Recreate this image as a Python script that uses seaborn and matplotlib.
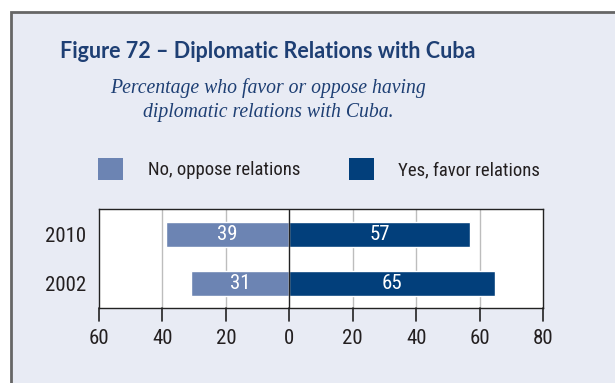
import matplotlib
matplotlib.use("Agg")
import matplotlib.pyplot as plt
from matplotlib import font_manager
from matplotlib.patches import Patch, Rectangle
import seaborn as sns

# data
years = ["2010", "2002"]
oppose = [39, 31]
favor = [57, 65]
x_ticks = [-60, -40, -20, 0, 20, 40, 60, 80]

light = "#6C84B3"
dark = "#023F7B"
navy = "#1E3F74"
ink = "#231F20"
bg = "#E8EBF4"

names = {f.name for f in font_manager.fontManager.ttflist}
narrow = "DejaVu Sans"
for cand in ["Liberation Sans Narrow", "Roboto Condensed", "Open Sans Condensed"]:
    if cand in names:
        narrow = cand
        break

sns.set_theme(style="white")
plt.rcParams["font.family"] = [narrow, "DejaVu Sans"]
plt.rcParams["font.stretch"] = "condensed"

fig = plt.figure(figsize=(6.15, 3.83), dpi=100)
fig.patch.set_facecolor("white")
# panel with grey frame on the left and top
fig.patches.append(Rectangle((11 / 615, -0.05), 1.1, (383 - 12) / 383 + 0.05,
                             transform=fig.transFigure, facecolor=bg,
                             edgecolor="#666666", linewidth=2, zorder=-5))

ax = fig.add_axes([99 / 615, (383 - 308) / 383, 444 / 615, 99 / 383])
ax.set_facecolor("white")

sns.barplot(x=[-v for v in oppose], y=years, color=light, width=0.51,
            saturation=1, orient="h", ax=ax, zorder=3)
sns.barplot(x=favor, y=years, color=dark, width=0.51,
            saturation=1, orient="h", ax=ax, zorder=3)

ax.bar_label(ax.containers[0], labels=[str(v) for v in oppose], label_type="center",
             color="white", fontsize=15)
ax.bar_label(ax.containers[1], labels=[str(v) for v in favor], label_type="center",
             color="white", fontsize=15)

ax.set_xlim(-60, 80)
ax.set_ylim(1.5, -0.52)
ax.set_xticks(x_ticks)
ax.set_xticklabels([str(abs(t)) for t in x_ticks])
for t in x_ticks:
    if t not in (-60, 0, 80):
        ax.axvline(t, color="#BDBDBD", lw=1, zorder=1)
ax.axvline(0, color="#222222", lw=1, zorder=4)

ax.set_xlabel("")
ax.set_ylabel("")
for s in ax.spines.values():
    s.set_color("#222222")
    s.set_linewidth(1)
ax.tick_params(axis="x", length=0, labelsize=15, labelcolor=ink, pad=15)
ax.tick_params(axis="y", length=0, labelsize=15, labelcolor=ink, pad=9)

# outward tick marks below the axis, drawn at figure level
trans = ax.get_xaxis_transform()
for t in x_ticks:
    x_fig = fig.transFigure.inverted().transform(trans.transform((t, 0)))[0]
    fig.add_artist(plt.Line2D([x_fig, x_fig], [(383 - 308) / 383, (383 - 321) / 383],
                              transform=fig.transFigure, color="#222222", lw=1.2,
                              zorder=10))

fig.text(268 / 615, 1 - 51 / 383, "Figure 72 \u2013 Diplomatic Relations with Cuba",
         ha="center", va="center", fontsize=15.5, fontweight="bold", color=navy,
         family=["Lato", "DejaVu Sans"], stretch="normal")
fig.text(268 / 615, 1 - 100 / 383,
         "Percentage who favor or oppose having\ndiplomatic relations with Cuba.",
         ha="center", va="center", fontsize=14.2, style="italic", color=navy,
         family=["Liberation Serif", "DejaVu Serif"], stretch="normal",
         linespacing=1.3)

handles = [Patch(facecolor=light, edgecolor="none", label="No, oppose relations"),
           Patch(facecolor=dark, edgecolor="none", label="Yes, favor relations")]
fig.legend(handles=handles, loc="center", bbox_to_anchor=(319 / 615, 1 - 169 / 383),
           ncol=2, frameon=False, fontsize=13.5, handlelength=1.35, handleheight=1.45,
           handletextpad=1.3, columnspacing=2.6, labelcolor=ink)

fig.savefig("out.png", dpi=100)
